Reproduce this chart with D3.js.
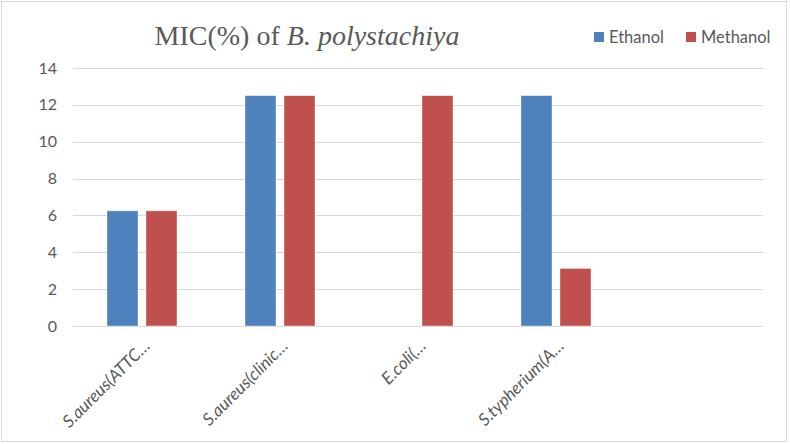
<!DOCTYPE html>
<html><head><meta charset="utf-8">
<script src="https://cdn.jsdelivr.net/npm/d3@7"></script>
<style>body{margin:0;background:#fff;} svg{display:block;}</style>
</head><body>
<svg id="chart" width="790" height="444"></svg>
<script>
const categories = ["S.aureus(ATTC…", "S.aureus(clinic…", "E.coli(…", "S.typherium(A…", ""];
const ethanol = [6.25, 12.5, null, 12.5, null];
const methanol = [6.25, 12.5, 12.5, 3.125, null];
const seriesNames = ["Ethanol", "Methanol"];
const colors = ["#4f81bd", "#c0504d"];
const yTicks = [0, 2, 4, 6, 8, 10, 12, 14];

(function () {
const svg = d3.select("#chart");
svg.append("rect").attr("x", 1.5).attr("y", 1.5).attr("width", 785).attr("height", 440)
  .attr("fill", "#fff").attr("stroke", "#d9d9d9");

const pLeft = 73, pRight = 763, pTop = 68, pBottom = 326;
const x = d3.scaleBand().domain(categories.map((c, i) => i)).range([pLeft, pRight]);
const y = d3.scaleLinear().domain([0, 14]).range([pBottom, pTop]);
const font = "Lato, 'Open Sans', sans-serif";

// gridlines
svg.append("g").selectAll("line").data(yTicks).join("line")
  .attr("x1", pLeft).attr("x2", pRight)
  .attr("y1", d => Math.round(y(d)) + 0.5).attr("y2", d => Math.round(y(d)) + 0.5)
  .attr("stroke", "#d9d9d9").attr("stroke-width", 1);

// y labels
svg.append("g").selectAll("text").data(yTicks).join("text")
  .attr("x", 57).attr("y", d => y(d)).attr("dy", "0.35em")
  .attr("text-anchor", "end").attr("fill", "#595959")
  .style("font-family", font).style("font-size", "16px")
  .text(d => d);

// bars
const series = [ethanol, methanol];
const groupW = 70, barW = 31;
series.forEach((vals, si) => {
  svg.append("g").selectAll("rect").data(vals.map((v, i) => ({v, i})).filter(d => d.v != null)).join("rect")
    .attr("x", d => x(d.i) + x.bandwidth() / 2 - groupW / 2 + si * (barW + 8))
    .attr("width", barW)
    .attr("y", d => y(d.v))
    .attr("height", d => y(0) - y(d.v))
    .attr("fill", colors[si])
    .attr("stroke", "#ffffff").attr("stroke-opacity", 0.5).attr("stroke-width", 0.75);
});

// x labels
svg.append("g").selectAll("text").data(categories.map((c, i) => ({c, i}))).join("text")
  .attr("transform", d => `translate(${x(d.i) + x.bandwidth() / 2 + 9},${347}) rotate(-45)`)
  .attr("text-anchor", "end").attr("fill", "#595959")
  .style("font-family", font).style("font-size", "17px")
  .style("font-style", "italic")
  .text(d => d.c);

// title
const title = svg.append("text").attr("x", 307).attr("y", 45).attr("text-anchor", "middle")
  .attr("fill", "#595959").style("font-family", "'Liberation Serif', 'Times New Roman', serif")
  .style("font-size", "28px");
title.append("tspan").text("MIC(%) of ");
title.append("tspan").style("font-style", "italic").text("B. polystachiya");

// legend
const legX = [594, 686];
seriesNames.forEach((n, i) => {
  svg.append("rect").attr("x", legX[i]).attr("y", 32).attr("width", 10).attr("height", 10).attr("fill", colors[i]);
  svg.append("text").attr("x", legX[i] + 15).attr("y", 37).attr("dy", "0.35em")
    .attr("fill", "#595959").style("font-family", font).style("font-size", "16.5px")
    .text(n);
});
})();
</script>
</body></html>
